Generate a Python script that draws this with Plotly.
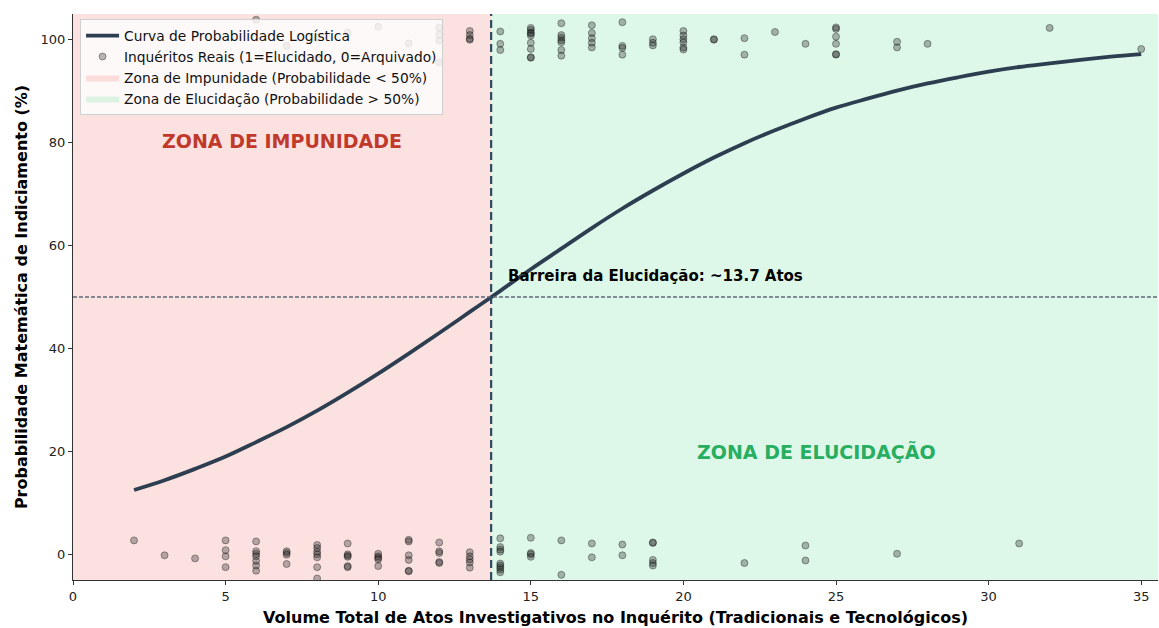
import plotly.graph_objects as go

# ---- data ----
curve_x = list(range(2, 36))
curve_y = [12.5, 14.4, 16.6, 19.0, 21.8, 24.7, 27.9, 31.4, 35.1, 39.0, 43.0, 47.1,
           51.2, 55.4, 59.4, 63.4, 67.2, 70.7, 74.0, 77.1, 79.9, 82.4, 84.7, 86.8,
           88.5, 90.1, 91.5, 92.7, 93.8, 94.7, 95.4, 96.1, 96.7, 97.2]

x_arquivados = [2, 3, 4,
                5, 5, 5, 5,
                6, 6, 6, 6, 6, 6, 6,
                7, 7, 7, 7,
                8, 8, 8, 8, 8, 8, 8,
                9, 9, 9, 9, 9, 9,
                10, 10, 10, 10, 10,
                11, 11, 11, 11, 11, 11,
                12, 12, 12, 12, 12,
                13, 13, 13, 13, 13,
                14, 14, 14, 14, 14, 14, 14, 14, 14,
                15, 15, 15, 15,
                16, 16, 17, 17, 18, 18,
                19, 19, 19, 19, 19,
                22, 24, 24, 27, 31]
y_arquivados = [2.7, -0.2, -0.8,
                2.7, 0.8, -0.4, -2.5,
                2.5, 0.6, 0.1, -0.4, -1.3, -2.2, -3.2,
                0.6, 0.25, -0.1, -1.9,
                1.8, 1.2, 0.5, 0.0, -0.6, -2.5, -4.7,
                2.1, 0.0, -0.3, -0.5, -2.3, -2.5,
                0.1, -0.4, -0.7, -1.0, -2.3,
                2.8, 2.5, -0.2, -1.1, -3.2, -3.3,
                2.3, 0.6, 0.25, -1.5, -1.7,
                0.4, -0.4, -1.0, -1.6, -2.6,
                3.1, 1.4, 0.9, 0.5, -1.8, -2.2, -2.6, -3.0, -3.5,
                3.2, 0.25, 0.0, -0.5,
                2.7, -4.0, 2.1, -0.6, 1.9, -0.2,
                2.2, 2.3, -1.1, -1.7, -2.2,
                -1.7, 1.7, -1.2, 0.1, 2.1]

x_elucidados = [6, 7, 8, 8, 9, 10, 11,
                12, 12, 12, 12,
                13, 13, 13, 13,
                14, 14, 14,
                15, 15, 15, 15, 15, 15, 15, 15, 15,
                16, 16, 16, 16, 16, 16, 16,
                17, 17, 17, 17, 17,
                18, 18, 18, 18,
                19, 19, 19,
                20, 20, 20, 20, 20, 20,
                21, 21, 22, 22, 23, 24,
                25, 25, 25, 25, 25, 25,
                27, 27, 28, 32, 35]
y_elucidados = [103.9, 98.8, 100.4, 96.3, 101.4, 102.5, 99.3,
                102.4, 101.0, 99.8, 95.6,
                101.7, 100.9, 100.0, 100.2,
                101.6, 99.2, 98.0,
                102.3, 101.9, 101.4, 100.8, 99.4, 98.2, 96.5, 96.6, 101.2,
                103.2, 100.9, 100.4, 99.9, 99.5, 98.0, 96.9,
                102.8, 101.3, 100.3, 99.4, 98.5,
                103.4, 98.8, 98.4, 97.1,
                100.1, 99.4, 98.9,
                101.7, 100.8, 100.1, 99.5, 98.5, 98.1,
                100.1, 100.0, 100.3, 97.1, 101.5, 99.2,
                102.4, 102.1, 100.6, 99.2, 97.2, 97.1,
                99.6, 98.5, 99.2, 102.3, 98.2]

limiar = 13.7
x_range = [0, 35.55]
y_range = [-5, 105]
x_ticks = [0, 5, 10, 15, 20, 25, 30, 35]
y_ticks = [0, 20, 40, 60, 80, 100]

FONT = "DejaVu Sans"

fig = go.Figure()

# zones
fig.add_trace(go.Scatter(
    x=[x_range[0], limiar, limiar, x_range[0], x_range[0]],
    y=[y_range[0], y_range[0], y_range[1], y_range[1], y_range[0]],
    fill="toself", fillcolor="rgba(231,76,60,0.16)", mode="lines",
    line=dict(width=0, color="rgba(231,76,60,0.16)"),
    name="Zona de Impunidade (Probabilidade < 50%)", legendrank=3,
    hoverinfo="skip"))
fig.add_trace(go.Scatter(
    x=[limiar, x_range[1], x_range[1], limiar, limiar],
    y=[y_range[0], y_range[0], y_range[1], y_range[1], y_range[0]],
    fill="toself", fillcolor="rgba(46,204,113,0.16)", mode="lines",
    line=dict(width=0, color="rgba(46,204,113,0.16)"),
    name="Zona de Elucidação (Probabilidade > 50%)", legendrank=4,
    hoverinfo="skip"))

# points
fig.add_trace(go.Scatter(
    x=x_arquivados + x_elucidados, y=y_arquivados + y_elucidados,
    mode="markers",
    marker=dict(size=7, color="rgba(30,30,30,0.32)",
                line=dict(width=1, color="rgba(0,0,0,0.35)")),
    name="Inquéritos Reais (1=Elucidado, 0=Arquivado)", legendrank=2))

# curve
fig.add_trace(go.Scatter(
    x=curve_x, y=curve_y, mode="lines", line_shape="spline",
    line=dict(color="#2c3e50", width=3.8),
    name="Curva de Probabilidade Logística", legendrank=1))

# reference lines
fig.add_shape(type="line", xref="paper", yref="y", x0=0, x1=1, y0=50, y1=50,
              line=dict(color="#5f6b78", width=1.4, dash="4px,2px"))
fig.add_shape(type="line", xref="x", yref="paper", x0=limiar, x1=limiar, y0=0, y1=1,
              line=dict(color="#34495e", width=2.2, dash="8px,4px"))

fig.add_annotation(x=limiar / 2, y=80.4, text="<b>ZONA DE IMPUNIDADE</b>",
                   showarrow=False, font=dict(family=FONT, size=19, color="#c0392b"))
fig.add_annotation(x=(limiar + 35) / 2, y=20, text="<b>ZONA DE ELUCIDAÇÃO</b>",
                   showarrow=False, font=dict(family=FONT, size=19, color="#27ae60"))
fig.add_annotation(x=limiar + 0.5, y=54, text="<b>Barreira da Elucidação: ~13.7 Atos</b>",
                   xanchor="left", yanchor="middle", showarrow=False,
                   font=dict(family=FONT, size=15, color="black"))

fig.update_layout(
    width=1159, height=628,
    margin=dict(l=73, r=1, t=14, b=48, autoexpand=False),
    plot_bgcolor="white", paper_bgcolor="white",
    font=dict(family=FONT, size=13, color="#222"),
    showlegend=True,
    legend=dict(x=0.0065, y=0.991, xanchor="left", yanchor="top",
                bgcolor="rgba(255,255,255,0.8)", bordercolor="#d0d0d0", borderwidth=1,
                font=dict(family=FONT, size=13.8, color="#111"),
                traceorder="normal", tracegroupgap=0, itemwidth=33),
    xaxis=dict(range=x_range, tickvals=x_ticks, showgrid=False, zeroline=False,
               showline=True, linecolor="#333", linewidth=1.2,
               ticks="outside", ticklen=4, tickcolor="#333",
               tickfont=dict(family=FONT, size=13, color="#222"),
               title=dict(text="<b>Volume Total de Atos Investigativos no Inquérito (Tradicionais e Tecnológicos)</b>",
                          font=dict(family=FONT, size=16, color="black"), standoff=9)),
    yaxis=dict(range=y_range, tickvals=y_ticks, showgrid=False, zeroline=False,
               showline=True, linecolor="#333", linewidth=1.2,
               ticks="outside", ticklen=4, tickcolor="#333",
               tickfont=dict(family=FONT, size=13, color="#222"),
               title=dict(text="<b>Probabilidade Matemática de Indiciamento (%)</b>",
                          font=dict(family=FONT, size=16, color="black"), standoff=8)),
)

fig.write_html(
    "out.html",
    config={"displayModeBar": False},
    post_script="document.body.style.margin='0';document.body.style.overflow='hidden';",
)
